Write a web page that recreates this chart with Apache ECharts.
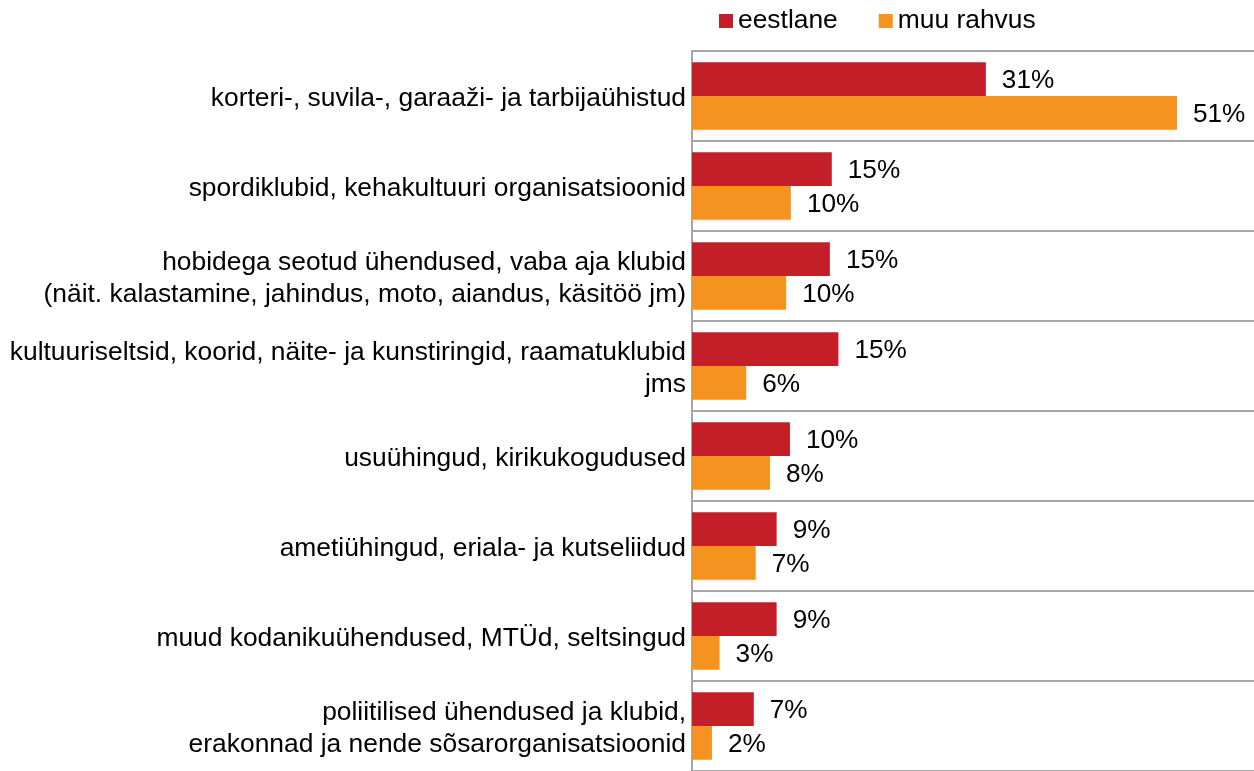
<!DOCTYPE html>
<html>
<head>
<meta charset="utf-8">
<script src="https://cdn.jsdelivr.net/npm/echarts@6/dist/echarts.min.js"></script>
<style>html,body{margin:0;padding:0;background:#fff}#c{width:1254px;height:771px}</style>
</head>
<body>
<div id="c"></div>
<script>
const categories = [
  "korteri-, suvila-, garaaži- ja tarbijaühistud",
  "spordiklubid, kehakultuuri organisatsioonid",
  "hobidega seotud ühendused, vaba aja klubid\n(näit. kalastamine, jahindus, moto, aiandus, käsitöö jm)",
  "kultuuriseltsid, koorid, näite- ja kunstiringid, raamatuklubid\njms",
  "usuühingud, kirikukogudused",
  "ametiühingud, eriala- ja kutseliidud",
  "muud kodanikuühendused, MTÜd, seltsingud",
  "poliitilised ühendused ja klubid,\nerakonnad ja nende sõsarorganisatsioonid"
];
const seriesNames = ["eestlane", "muu rahvus"];
const eestlane = [30.9, 14.7, 14.5, 15.4, 10.3, 8.9, 8.9, 6.5];
const muuRahvus = [51.0, 10.4, 9.9, 5.7, 8.2, 6.7, 2.9, 2.1];

const chart = echarts.init(document.getElementById('c'));
const font = "'Liberation Sans', Arial, sans-serif";
const lbl = {
  show: true, position: 'right', distance: 16, offset: [0, 2],
  fontFamily: font, fontSize: 26.2, color: '#000',
  formatter: p => Math.round(p.value) + '%'
};
chart.setOption({
  animation: false,
  textStyle: { fontFamily: font },
  legend: {
    left: 714, top: 3,
    itemWidth: 14, itemHeight: 14, itemGap: 41,
    icon: 'rect',
    textStyle: { fontFamily: font, fontSize: 26.4, color: '#000' },
    data: seriesNames
  },
  grid: { left: 692, top: 51, bottom: 0, right: 0 },
  xAxis: {
    type: 'value', min: 0, max: 59.1, show: false
  },
  yAxis: {
    type: 'category', inverse: true, data: categories,
    axisLine: { show: true, lineStyle: { color: '#a6a6a6', width: 2 } },
    axisTick: { show: false },
    splitLine: { show: true, lineStyle: { color: '#a6a6a6', width: 2 } },
    axisLabel: {
      margin: 6, align: 'right',
      formatter: v => v.split('\n').map(l => '{t|' + l + '}').join('\n'),
      rich: { t: { fontFamily: font, fontSize: 26.4, color: '#000', lineHeight: 32, padding: [5, 0, 0, 0] } }
    }
  },
  series: [
    { name: seriesNames[0], type: 'bar', data: eestlane, barGap: '0%', barCategoryGap: '25%',
      itemStyle: { color: '#C41F29' }, label: lbl },
    { name: seriesNames[1], type: 'bar', data: muuRahvus,
      itemStyle: { color: '#F59321' }, label: lbl }
  ]
});
</script>
</body>
</html>
